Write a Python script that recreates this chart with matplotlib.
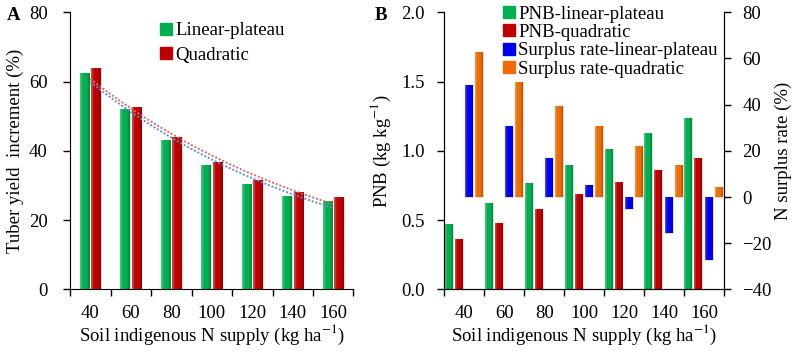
import numpy as np
import matplotlib
matplotlib.use("Agg")
import matplotlib.pyplot as plt
from matplotlib.colors import to_rgb

plt.rcParams['font.family'] = ['Liberation Serif', 'DejaVu Serif']
plt.rcParams['mathtext.fontset'] = 'stix'

# data
n_supply = ['40', '60', '80', '100', '120', '140', '160']
yield_lp = [62.6, 52.1, 43.0, 35.8, 30.4, 26.9, 25.4]
yield_quad = [63.8, 52.8, 44.1, 36.9, 31.6, 28.1, 26.6]
pnb_lp = [0.47, 0.62, 0.765, 0.898, 1.011, 1.129, 1.237]
pnb_quad = [0.363, 0.479, 0.582, 0.686, 0.775, 0.862, 0.948]
surplus_lp = [48.4, 30.6, 16.7, 5.4, -5.2, -15.7, -27.2]
surplus_quad = [62.6, 49.7, 39.3, 30.6, 22.2, 13.9, 4.5]

GREEN = '#00B050'
RED = '#C00000'
BLUE = '#0000F0'
ORANGE = '#F06C00'
FS = 13.5


def shade(ax, bars, color):
    # excel-like bevel: lighter left side, darker right edge
    c = np.array(to_rgb(color))
    light = c + (1 - c) * 0.25
    dark = c * 0.8
    grad = np.array([light, c, c, c, dark])[None, :, :]
    for b in bars:
        x0, y0 = b.get_x(), b.get_y()
        w, h = b.get_width(), b.get_height()
        im = ax.imshow(grad, extent=[x0, x0 + w, y0, y0 + h], aspect='auto',
                       interpolation='bilinear', zorder=b.get_zorder())
        im.set_clip_path(b)
        b.set_facecolor('none')
        b.set_edgecolor((0.85, 0.85, 0.85))
        b.set_linewidth(0.6)


def style_x(ax):
    x = np.arange(len(n_supply))
    ax.set_xlim(-0.5, len(n_supply) - 0.5)
    ax.set_xticks(x)
    ax.set_xticklabels(n_supply, fontsize=FS)
    ax.set_xticks(np.arange(-0.5, len(n_supply)), minor=True)
    ax.tick_params(axis='x', which='major', length=0, pad=11)
    ax.tick_params(axis='x', which='minor', length=5, width=1)
    ax.set_xlabel('Soil indigenous N supply (kg ha$^{-1}$)', fontsize=FS, labelpad=1)


fig = plt.figure(figsize=(7.94, 3.52), dpi=100)

# ---- panel A
axA = fig.add_axes([0.0882, 0.178, 0.357, 0.787])
x = np.arange(len(n_supply))
b1 = axA.bar(x - 0.14, yield_lp, 0.24, color=GREEN, label='Linear-plateau', zorder=2)
b2 = axA.bar(x + 0.14, yield_quad, 0.24, color=RED, label='Quadratic', zorder=2)
shade(axA, b1, GREEN)
shade(axA, b2, RED)

# exponential trendlines
xs = np.linspace(0, 6, 60)
for vals, col in [(yield_lp, '#5B8FD5'), (yield_quad, '#E06666')]:
    k, c = np.polyfit(x, np.log(vals), 1)
    axA.plot(xs, np.exp(c + k * xs), ls=(0, (1, 1)), color=col, lw=1.4, zorder=3)

axA.set_ylim(0, 80)
axA.set_yticks([0, 20, 40, 60, 80])
axA.tick_params(axis='y', labelsize=FS, length=5, width=1, pad=11)
axA.set_ylabel('Tuber yield  increment (%)', fontsize=FS, labelpad=4)
style_x(axA)
for s in ['top', 'right']:
    axA.spines[s].set_visible(False)
hA = [plt.Line2D([], [], marker='s', ls='', color=GREEN, markersize=9),
      plt.Line2D([], [], marker='s', ls='', color=RED, markersize=9)]
axA.legend(hA, ['Linear-plateau', 'Quadratic'], loc='upper left',
           bbox_to_anchor=(0.26, 1.025), frameon=False, fontsize=FS,
           handlelength=0.6, handletextpad=0.2, labelspacing=0.4)
fig.text(0.008, 0.955, 'A', fontsize=FS, fontweight='bold', va='center')

# ---- panel B
axB = fig.add_axes([0.5596, 0.178, 0.3526, 0.787])
axR = axB.twinx()
w = 0.2
g1 = axB.bar(x - 0.395, pnb_lp, w, color=GREEN, zorder=2)
g2 = axB.bar(x - 0.145, pnb_quad, w, color=RED, zorder=2)
g3 = axR.bar(x + 0.125, surplus_lp, w, color=BLUE, zorder=2)
g4 = axR.bar(x + 0.375, surplus_quad, w, color=ORANGE, zorder=2)
shade(axB, g1, GREEN)
shade(axB, g2, RED)
shade(axR, g3, BLUE)
shade(axR, g4, ORANGE)

axB.set_ylim(0, 2.0)
axB.set_yticks([0, 0.5, 1.0, 1.5, 2.0])
axB.set_yticklabels(['0.0', '0.5', '1.0', '1.5', '2.0'])
axB.tick_params(axis='y', labelsize=FS, length=5, width=1, pad=9)
axB.set_ylabel('PNB (kg kg$^{-1}$)', fontsize=FS, labelpad=6)
style_x(axB)
axR.set_ylim(-40, 80)
axR.set_yticks([-40, -20, 0, 20, 40, 60, 80])
axR.tick_params(axis='y', labelsize=FS, length=5, width=1, pad=8)
axR.set_ylabel('N surplus rate (%)', fontsize=FS, labelpad=2)
for a in (axB, axR):
    a.spines['top'].set_visible(False)
hB = [plt.Line2D([], [], marker='s', ls='', color=c, markersize=9)
      for c in (GREEN, RED, BLUE, ORANGE)]
axR.legend(hB, ['PNB-linear-plateau', 'PNB-quadratic',
                'Surplus rate-linear-plateau', 'Surplus rate-quadratic'],
           loc='upper left', bbox_to_anchor=(0.15, 1.085), frameon=False,
           fontsize=FS, handlelength=0.6, handletextpad=0.2, labelspacing=0.06)
fig.text(0.472, 0.955, 'B', fontsize=FS, fontweight='bold', va='center')

fig.savefig('out.png', dpi=100)
